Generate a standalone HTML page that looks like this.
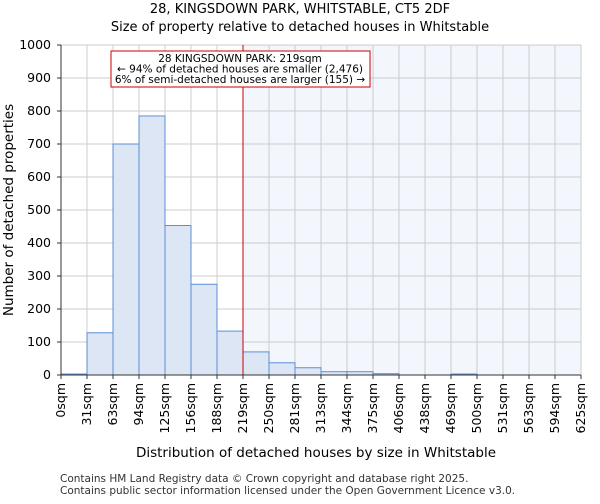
<!DOCTYPE html>
<html><head><meta charset="utf-8"><style>
body{margin:0;background:#fff;font-family:"DejaVu Sans","Liberation Sans",sans-serif;}
</style></head><body>
<svg width="600" height="500" xmlns="http://www.w3.org/2000/svg" font-family="DejaVu Sans, Liberation Sans, sans-serif">
<text x="300" y="13" text-anchor="middle" font-size="13">28, KINGSDOWN PARK, WHITSTABLE, CT5 2DF</text>
<text x="300" y="31" text-anchor="middle" font-size="13">Size of property relative to detached houses in Whitstable</text>
<g id="plot"></g>
<text x="316" y="457" text-anchor="middle" font-size="13.5">Distribution of detached houses by size in Whitstable</text>
<text transform="translate(13,210) rotate(-90)" text-anchor="middle" font-size="13.5">Number of detached properties</text>
<text x="60" y="482" font-size="10.5" fill="#333">Contains HM Land Registry data © Crown copyright and database right 2025.</text>
<text x="60" y="494" font-size="10.5" fill="#333">Contains public sector information licensed under the Open Government Licence v3.0.</text>
</svg>
<script>
const binLabels=["0sqm","31sqm","63sqm","94sqm","125sqm","156sqm","188sqm","219sqm","250sqm","281sqm","313sqm","344sqm","375sqm","406sqm","438sqm","469sqm","500sqm","531sqm","563sqm","594sqm","625sqm"];
const counts=[3,128,700,785,453,275,133,70,37,22,10,10,4,0,0,3,0,0,0,0];
const yTicks=[0,100,200,300,400,500,600,700,800,900,1000];
const markerBin=7;
const NS="http://www.w3.org/2000/svg";
const g=document.getElementById('plot');
const X0=61,X1=581,Y0=375,Y1=45;
const bw=(X1-X0)/counts.length;
const xs=i=>X0+i*bw;
const ys=v=>Y0-(v/1000)*(Y0-Y1);
function mk(t,a){const e=document.createElementNS(NS,t);for(const k in a)e.setAttribute(k,a[k]);g.appendChild(e);return e;}
let e;
e=mk('rect',{x:xs(markerBin),y:Y1,width:X1-xs(markerBin),height:Y0-Y1,fill:'#f3f6fd'});


for(let i=0;i<=counts.length;i++){e=mk('line',{x1:xs(i),x2:xs(i),y1:Y1,y2:Y0,stroke:'#ccc'});

}
yTicks.forEach(t=>{e=mk('line',{x1:X0,x2:X1,y1:ys(t),y2:ys(t),stroke:'#ccc'});


e=mk('text',{x:X0-10,y:ys(t)+4,'text-anchor':'end','font-size':12.5});e.textContent=t;


mk('line',{x1:X0-4,x2:X0,y1:ys(t),y2:ys(t),stroke:'#333'});});
counts.forEach((c,i)=>{e=mk('rect',{x:xs(i),y:ys(c),width:bw,height:Y0-ys(c),fill:'#dce6f4',stroke:'#5b8fd6','stroke-width':1});

});
binLabels.forEach((l,i)=>{e=mk('text',{transform:`translate(${xs(i)+4},${Y0+8}) rotate(-90)`,'text-anchor':'end','font-size':12.5});e.textContent=l;


mk('line',{x1:xs(i),x2:xs(i),y1:Y0,y2:Y0+4,stroke:'#333'});});
e=mk('line',{x1:xs(markerBin),x2:xs(markerBin),y1:Y1,y2:Y0,stroke:'#cc0000','stroke-width':1});


e=mk('rect',{x:111,y:51,width:259,height:36,fill:'#fff',stroke:'#cc0000'});


["28 KINGSDOWN PARK: 219sqm","← 94% of detached houses are smaller (2,476)","6% of semi-detached houses are larger (155) →"].forEach((s,i)=>{e=mk('text',{x:240,y:62+i*10.5,'text-anchor':'middle','font-size':10.5});e.textContent=s;

});
mk('line',{x1:X0,x2:X0,y1:Y1,y2:Y0,stroke:'#333'});
mk('line',{x1:X0,x2:X1,y1:Y0,y2:Y0,stroke:'#333'});
</script>
</body></html>
